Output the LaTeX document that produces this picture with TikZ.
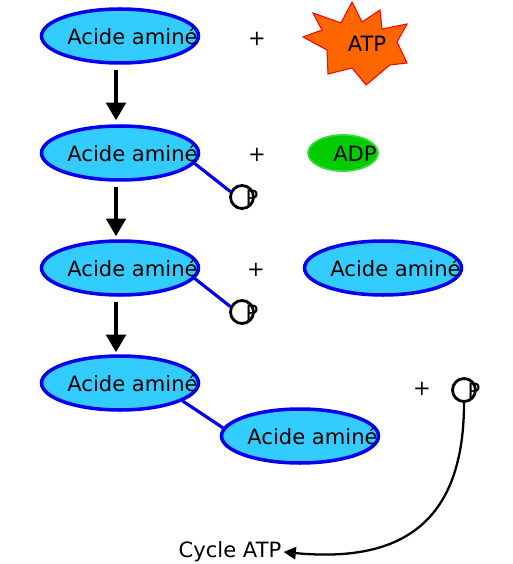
\documentclass[tikz,border=0pt]{standalone}
\usepackage{fontspec}
\setmainfont{DejaVu Sans}
\usepackage{xcolor}
\usetikzlibrary{arrows.meta, positioning, shapes.geometric, calc}
\definecolor{aafill}{HTML}{33CCFF}
\definecolor{aadraw}{HTML}{0000F0}
\definecolor{atpfill}{HTML}{FF6600}
\definecolor{adpfill}{HTML}{00CC00}
\definecolor{adpdraw}{HTML}{33DD33}

\begin{document}
\begin{tikzpicture}[
  x=0.02cm, y=-0.02cm,
  font=\fontsize{12}{14}\selectfont,
  aa/.style={ellipse, draw=aadraw, line width=2pt, fill=aafill,
             minimum width=3.14cm, minimum height=1.08cm, inner sep=0pt,
             label={[xshift=0.25cm]center:Acide aminé}},
  phos/.style={circle, draw=black, line width=1.6pt, minimum size=0.46cm, inner sep=0pt},
  bond/.style={draw=aadraw, line width=1.8pt},
  step arr/.style={-{Triangle[length=10pt, width=11pt]}, line width=2.2pt},
  plus/.style={inner sep=0pt}
]
\useasboundingbox (0,0) rectangle (512,564);
%% amino acid column (x=120)
\node[aa] (aa1) at (120, 36)  {};
\node[aa] (aa2) at (120, 153) {};
\node[aa] (aa3) at (120, 268) {};
\node[aa] (aa4) at (120, 383) {};
%% right-hand partners
\node[aa] (aa3r) at (383, 268) {};
\node[aa] (aa5)  at (300, 436) {};
%% plus signs
\node[plus] (pl1) at (257, 39)  {+};
\node[plus] (pl2) at (257, 155) {+};
\node[plus] (pl3) at (256, 270) {+};
\node[plus] (pl4) at (422, 389) {+};
%% ATP star
\draw[draw=red, fill=atpfill, line width=0.6pt]
  (352,2) -- (362,22) -- (380,10) -- (382,29) -- (407,24) -- (397,42)
  -- (407,63) -- (390,65) -- (366,85) -- (352,68) -- (328,74) -- (327,50)
  -- (303,37) -- (322,30) -- (313,13) -- (341,23) -- cycle;
\node (atp) at (367, 44) {ATP};
%% ADP
\node[ellipse, draw=adpdraw, line width=1pt, fill=adpfill,
      minimum width=1.4cm, minimum height=0.72cm, inner sep=0pt] (adp) at (343, 153) {};
\node (adptxt) at (355, 154) {ADP};
%% phosphates
\node[phos] (p2) at (242, 197) {};
\node[phos] (p3) at (242, 312) {};
\node[phos] (p4) at (464, 390) {};
\foreach \p in {p2, p3, p4}
  \node[inner sep=0pt] at ($(\p.center) + (10, 1)$) {P};
%% bonds
\draw[bond] (aa2.-8)  -- (p2.155);
\draw[bond] (aa3.-8)  -- (p3.155);
\draw[bond] (aa4.-16) -- (aa5.174);
%% reaction arrows
\draw[step arr] ($(aa1.south) + (-4, 5)$) -- ($(aa2.north) + (-4, -4)$);
\draw[step arr] ($(aa2.south) + (-4, 5)$) -- ($(aa3.north) + (-4, -3)$);
\draw[step arr] ($(aa3.south) + (-4, 5)$) -- ($(aa4.north) + (-4, -2)$);
%% phosphate back to the cycle
\node (cyc) at (230, 552) {Cycle ATP};
\draw[-{Triangle[length=7pt, width=7pt]}, line width=1.3pt]
  (p4.south) .. controls ++(0, 130) and (390, 562) .. ($(cyc.east) + (-4, 0)$);
\end{tikzpicture}
\end{document}
